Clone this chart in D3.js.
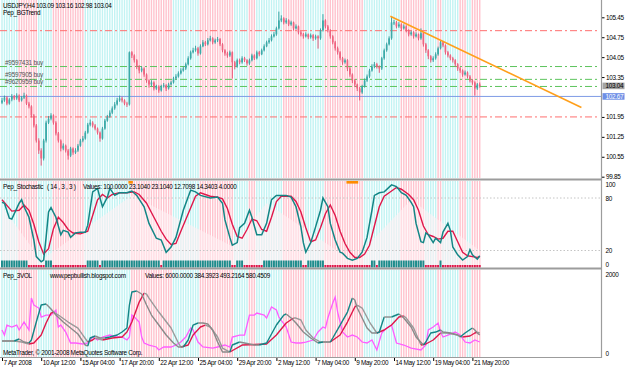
<!DOCTYPE html>
<html>
<head>
<meta charset="utf-8">
<script src="https://cdn.jsdelivr.net/npm/d3@7"></script>
<style>
body { margin: 0; background: #fff; }
svg text { font-family: "Liberation Sans", Arial, sans-serif; font-size: 6.4px; letter-spacing: -0.3px; fill: #000; }
</style>
</head>
<body>
<script>
// USDJPY H4 closes / highs / lows (open = previous close)
var firstOpen = 102.45;
var closes = [102.53,102.63,102.42,102.56,102.67,102.60,102.70,102.53,102.63,102.70,
102.42,102.32,102.00,101.65,101.12,100.77,100.49,101.12,101.75,101.89,
102.00,101.75,101.37,101.12,100.84,100.94,100.77,100.59,100.84,100.70,
100.77,100.94,101.12,101.19,101.40,101.68,101.75,101.65,101.54,101.40,
101.19,101.54,101.82,101.96,102.10,102.25,102.39,102.53,102.60,102.53,
102.42,102.39,104.22,104.11,103.94,103.72,103.58,103.65,103.44,103.23,
103.09,103.16,102.95,103.02,102.88,103.02,103.06,102.95,103.09,103.16,
103.30,103.37,103.48,103.58,103.65,103.80,104.01,104.22,104.29,104.36,
104.18,104.43,104.57,104.50,104.64,104.71,104.57,104.64,104.68,104.50,
104.29,104.18,104.11,104.22,103.87,103.72,103.94,103.87,104.01,103.94,
103.83,103.94,104.11,104.01,104.22,104.15,104.29,104.43,104.57,104.64,
104.78,104.85,105.06,105.34,105.41,105.27,105.34,105.20,105.27,105.06,
105.13,104.92,104.85,104.78,104.85,104.75,104.82,104.71,104.78,104.71,
104.99,105.34,105.13,104.99,104.78,104.57,104.36,104.22,104.01,103.87,
103.94,103.65,103.44,103.23,103.09,102.95,102.81,103.02,103.23,103.37,
103.58,103.72,103.80,103.72,103.65,104.01,104.29,104.50,104.71,105.27,
105.27,105.13,105.20,105.06,105.13,104.99,104.85,104.92,104.78,104.85,
104.71,104.89,104.50,104.29,104.08,103.94,104.01,104.15,104.36,104.57,
104.46,104.22,104.11,104.01,103.94,103.80,103.65,103.58,103.44,103.51,
103.37,103.23,103.16,102.95,103.09,103.04];
var highs = [102.62,102.70,102.68,102.61,102.75,102.72,102.78,102.74,102.68,102.80,
102.74,102.48,102.36,102.05,101.70,101.20,100.85,101.18,101.82,101.98,
102.08,102.04,101.80,101.42,101.16,101.02,100.98,100.82,100.90,100.88,
100.85,101.00,101.18,101.28,101.46,101.74,101.86,101.80,101.70,101.58,
101.44,101.60,101.88,102.02,102.18,102.32,102.47,102.62,102.70,102.66,
102.57,102.48,104.25,104.26,104.15,103.98,103.77,103.72,103.69,103.48,
103.27,103.24,103.20,103.08,103.06,103.08,103.14,103.10,103.15,103.22,
103.36,103.45,103.55,103.66,103.72,103.86,104.08,104.28,104.38,104.45,
104.41,104.50,104.65,104.62,104.72,104.80,104.75,104.70,104.76,104.72,
104.54,104.33,104.24,104.28,104.25,103.92,104.00,104.00,104.08,104.06,
103.98,104.00,104.17,104.15,104.28,104.27,104.35,104.50,104.63,104.72,
104.85,104.93,105.12,105.65,105.52,105.45,105.42,105.38,105.33,105.30,
105.20,105.16,104.97,104.90,104.92,104.88,104.88,104.86,104.84,104.82,
105.06,105.56,105.38,105.18,105.03,104.82,104.62,104.42,104.26,104.06,
104.00,103.98,103.70,103.48,103.28,103.12,103.00,103.08,103.30,103.44,
103.64,103.80,103.88,103.85,103.76,104.06,104.35,104.56,104.78,105.49,
105.36,105.32,105.28,105.24,105.20,105.17,105.03,104.98,104.96,104.92,
104.88,105.06,104.93,104.55,104.33,104.12,104.08,104.22,104.42,104.64,
104.62,104.50,104.27,104.15,104.06,103.98,103.84,103.70,103.62,103.58,
103.55,103.42,103.28,103.20,103.14,103.16];
var lows = [102.40,102.48,102.36,102.38,102.50,102.54,102.55,102.47,102.49,102.58,
102.37,102.25,101.93,101.58,101.05,100.65,100.24,100.42,101.05,101.70,
101.83,101.68,101.30,101.05,100.74,100.78,100.70,100.45,100.54,100.62,
100.65,100.72,100.90,101.06,101.15,101.36,101.62,101.58,101.48,101.33,
101.08,101.15,101.50,101.78,101.92,102.05,102.20,102.35,102.48,102.46,
102.36,102.30,102.35,104.02,103.86,103.63,103.48,103.52,103.36,103.15,
102.98,103.03,102.88,102.90,102.80,102.84,102.98,102.86,102.91,103.05,
103.12,103.26,103.33,103.44,103.54,103.60,103.76,103.96,104.18,104.24,
104.10,104.14,104.40,104.44,104.46,104.60,104.50,104.52,104.58,104.44,
104.22,104.10,104.03,104.06,103.30,103.62,103.68,103.80,103.82,103.88,
103.75,103.78,103.90,103.95,103.97,104.08,104.12,104.25,104.40,104.52,
104.60,104.74,104.80,105.02,105.28,105.20,105.22,105.14,105.15,104.98,
105.02,104.85,104.78,104.70,104.74,104.68,104.70,104.62,104.66,104.35,
104.66,104.95,105.06,104.92,104.70,104.50,104.28,104.14,103.94,103.78,
103.82,103.56,103.36,103.14,103.00,102.86,102.53,102.76,102.98,103.18,
103.32,103.54,103.66,103.65,103.50,103.60,103.96,104.24,104.46,104.66,
105.18,105.06,105.08,104.98,105.02,104.92,104.78,104.80,104.70,104.74,
104.64,104.66,104.42,104.20,103.98,103.86,103.88,103.96,104.10,104.32,
104.40,104.14,104.04,103.94,103.86,103.72,103.57,103.50,103.36,103.40,
103.30,103.16,103.08,102.70,102.90,102.98];

var priceTicks = [105.45, 104.75, 104.05, 103.35, 101.95, 101.25, 100.55, 99.85];
var timeBars = [0, 16, 32, 48, 64, 80, 96, 112, 128, 144, 160, 176, 192];
var timeLabels = ['7 Apr 2008', '10 Apr 12:00', '15 Apr 04:00', '17 Apr 20:00', '22 Apr 12:00',
  '25 Apr 04:00', '29 Apr 20:00', '2 May 12:00', '7 May 04:00', '9 May 20:00',
  '14 May 12:00', '19 May 04:00', '21 May 20:00'];

// Pep_BGTrend: [from bar, to bar] segments painted cyan, others pink
var bgUp = [[0,6],[15,20],[34,52],[70,80],[95,100],[104,114],[124,131],[148,162],[173,177],[180,186],[190,191]];

// order / level lines
var orderLevels = [103.72, 103.27, 103.02];
var orderLabels = ['#9597431 buy', '#9597905 buy', '#9620959 buy'];
var stopLevels = [104.98, 101.95];
var blueLevel = 102.67;
var bidLevel = 103.04;
var trendPts = [[158.5, 105.49], [236.5, 102.28]];

// Pep_Stochastic (14,3,3): [bar, value]
var stochK = [[0,75],[1,74],[3,57],[4,56],[7,74],[8,78],[9,70],[11,58],[13,32],[14,13],[16,7],[17,9],[18,35],[19,64],[20,69],[22,58],[24,38],[25,43],[27,41],[28,35],[30,40],[32,41],[34,41],[35,49],[37,87],[39,91],[40,80],[41,70],[43,81],[44,91],[46,83],[48,86],[51,86],[53,88],[55,83],[58,70],[60,51],[63,34],[65,32],[67,18],[69,24],[71,35],[74,66],[77,89],[79,87],[81,83],[85,80],[88,81],[90,74],[91,55],[93,35],[94,26],[96,29],[97,46],[99,51],[101,66],[102,58],[104,38],[106,38],[108,51],[110,78],[112,83],[116,83],[118,81],[120,70],[122,47],[123,29],[124,18],[126,29],[128,47],[130,66],[131,80],[133,70],[134,51],[136,32],[138,18],[139,17],[141,11],[143,9],[145,11],[147,18],[149,35],[151,66],[152,83],[154,86],[156,87],[159,95],[161,93],[163,86],[165,83],[167,75],[168,70],[169,51],[171,30],[172,29],[173,40],[174,38],[176,29],[177,34],[179,29],[180,41],[182,51],[183,43],[184,24],[186,15],[188,9],[190,13],[191,21],[192,15],[194,10],[195,14]];
var stochD = [[0,78],[4,65],[7,66],[9,72],[11,66],[13,50],[15,30],[17,16],[19,22],[21,45],[23,58],[25,52],[27,44],[29,40],[32,39],[35,42],[37,60],[39,78],[41,84],[43,80],[45,84],[48,86],[51,86],[54,87],[56,84],[59,74],[62,58],[65,42],[67,33],[69,27],[71,28],[73,42],[76,62],[79,82],[81,86],[85,82],[88,81],[90,79],[92,68],[94,50],[96,36],[98,34],[100,44],[102,56],[104,54],[106,44],[108,42],[110,58],[112,76],[114,82],[118,82],[120,76],[122,64],[124,46],[126,30],[128,32],[130,46],[132,62],[134,72],[136,60],[138,42],[140,28],[142,18],[144,12],[146,12],[148,16],[150,26],[152,48],[154,70],[156,82],[158,86],[161,92],[163,90],[166,84],[168,78],[170,66],[172,48],[174,38],[176,36],[178,33],[180,34],[182,42],[184,42],[186,30],[188,18],[190,14],[192,13],[194,12],[195,13]];
var stochZigzag = [[0,70],[16,9],[53,83],[94,25],[108,74],[143,8],[167,78],[195,20]];
var stochLevels = [80, 20];
var stochTicks = [100, 80, 20, 0];
// histogram run: [from bar, to bar, 1 = up / 0 = down]
var stochHist = [[0,10,1],[11,17,0],[18,20,1],[21,34,0],[35,39,1],[40,40,0],[41,64,1],[65,65,0],[66,93,1],[94,95,0],[96,98,1],[99,106,0],[107,122,1],[123,124,0],[125,131,1],[132,150,0],[151,152,1],[153,153,0],[154,172,1],[173,178,0],[179,179,1],[180,195,0]];
var orangeMarks = [[52,53],[141,145]];

// Pep_3VOL: [bar, value]
var volFast = [[0,304],[5,304],[7,354],[9,278],[11,253],[12,329],[14,784],[16,1214],[18,1240],[20,1113],[22,961],[25,784],[28,632],[31,481],[34,202],[35,177],[36,380],[38,430],[40,380],[42,380],[44,405],[47,455],[49,531],[51,632],[52,1214],[53,1543],[55,1569],[57,1493],[59,1214],[61,961],[64,708],[67,455],[70,253],[72,152],[74,152],[76,329],[78,708],[80,759],[82,759],[84,734],[86,582],[88,278],[90,25],[93,25],[94,202],[97,278],[99,253],[103,202],[105,202],[108,253],[112,708],[115,961],[116,987],[118,885],[120,759],[123,531],[126,380],[129,253],[131,278],[134,278],[135,380],[138,708],[141,1037],[143,1391],[144,1341],[145,1138],[147,885],[149,632],[151,506],[153,506],[154,531],[156,911],[159,911],[162,987],[164,885],[167,658],[169,405],[172,202],[173,278],[175,506],[177,531],[179,582],[180,531],[183,506],[186,455],[187,405],[189,506],[192,632],[193,582],[194,506],[195,455]];
var volSlow = [[0,304],[5,304],[8,278],[11,228],[13,253],[16,455],[18,759],[20,1012],[21,1037],[23,961],[27,784],[31,632],[33,455],[35,278],[37,329],[38,380],[41,329],[45,380],[49,405],[51,531],[53,784],[56,1290],[58,1518],[59,1493],[60,1391],[64,1037],[69,632],[72,253],[73,152],[76,202],[78,455],[81,658],[83,708],[85,658],[88,405],[90,126],[93,25],[98,202],[108,228],[112,455],[116,759],[119,885],[120,885],[122,835],[124,582],[127,380],[130,278],[134,278],[138,455],[141,784],[144,1164],[145,1214],[147,1138],[150,784],[153,506],[156,582],[159,708],[162,911],[164,936],[165,885],[168,632],[171,202],[173,228],[176,329],[179,506],[182,506],[186,455],[188,405],[191,430],[193,506],[194,531],[195,506]];
var volMag = [[0,582],[1,455],[2,708],[4,658],[6,708],[7,582],[9,784],[11,582],[12,1391],[13,1214],[15,1138],[16,911],[18,961],[20,961],[22,1088],[23,658],[24,708],[26,531],[28,253],[30,253],[33,228],[35,253],[37,405],[39,329],[41,405],[44,455],[47,405],[49,405],[51,329],[52,405],[53,961],[54,911],[56,784],[57,405],[58,253],[60,202],[63,152],[64,76],[66,152],[69,152],[71,202],[73,278],[75,405],[77,632],[78,582],[80,278],[82,152],[86,126],[88,152],[91,202],[93,152],[94,405],[97,455],[99,455],[101,961],[103,961],[104,1012],[107,961],[108,885],[110,1164],[112,1088],[113,911],[116,658],[118,278],[120,253],[122,253],[124,278],[127,329],[129,531],[131,658],[132,632],[133,885],[135,1265],[136,1417],[137,1037],[139,531],[141,405],[143,455],[145,405],[147,278],[149,253],[151,329],[153,76],[155,506],[157,632],[159,708],[161,253],[164,202],[167,126],[171,76],[173,202],[174,582],[176,658],[178,759],[179,531],[180,405],[182,455],[185,531],[187,455],[189,278],[191,253],[193,329],[195,278]];
var volTicks = [2000, 0];

var W = 625, H = 368, plotR = 601.5;
var svg = d3.select('body').append('svg').attr('width', W).attr('height', H);

var x = d3.scaleLinear().domain([0, 195]).range([2, 479.75]);
var yP = d3.scaleLinear().domain([99.85, 105.45]).range([176.7, 17.3]);
var yS = d3.scaleLinear().domain([0, 100]).range([268, 180.5]);
var yV = d3.scaleLinear().domain([0, 2000]).range([353, 274]);

var bars = closes.map(function (c, i) {
  return { i: i, o: i === 0 ? firstOpen : closes[i - 1], c: c, h: highs[i], l: lows[i] };
});
function isUp(i) {
  return bgUp.some(function (s) { return i >= s[0] && i <= s[1]; });
}

// background stripes in the three panels
var panels = [[0, 178], [181, 267.5], [269.5, 357]];
panels.forEach(function (p) {
  svg.append('g').selectAll('rect').data(bars).enter().append('rect')
    .attr('x', function (d) { return x(d.i) - 0.7; })
    .attr('y', p[0]).attr('width', 1.4).attr('height', p[1] - p[0])
    .attr('fill', function (d) { return isUp(d.i) ? '#c2f3f3' : '#ffc3ce'; });
});

svg.append('clipPath').attr('id', 'cm').append('rect')
  .attr('x', 0).attr('y', 0).attr('width', plotR).attr('height', 178);

// level lines
var gLev = svg.append('g').attr('clip-path', 'url(#cm)');
gLev.selectAll('.stop').data(stopLevels).enter().append('line')
  .attr('x1', 0).attr('x2', plotR - 2)
  .attr('y1', function (d) { return yP(d); }).attr('y2', function (d) { return yP(d); })
  .attr('stroke', '#ff6f6f').attr('stroke-dasharray', '7,3,2,3');
gLev.selectAll('.ord').data(orderLevels).enter().append('line')
  .attr('x1', 0).attr('x2', plotR - 2)
  .attr('y1', function (d) { return yP(d); }).attr('y2', function (d) { return yP(d); })
  .attr('stroke', '#5cc45c').attr('stroke-dasharray', '7,3,2,3');
gLev.append('line').attr('x1', 0).attr('x2', plotR)
  .attr('y1', yP(blueLevel)).attr('y2', yP(blueLevel))
  .attr('stroke', '#7f9be6').attr('stroke-width', 1);
gLev.selectAll('.olab').data(orderLevels).enter().append('text')
  .attr('x', 5).attr('y', function (d) { return yP(d) - 2; })
  .style('fill', '#555').style('font-size', '6.4px').style('letter-spacing', '-0.2px')
  .text(function (d, i) { return orderLabels[i]; });

// candles
var gC = svg.append('g');
gC.selectAll('line').data(bars).enter().append('line')
  .attr('x1', function (d) { return x(d.i); }).attr('x2', function (d) { return x(d.i); })
  .attr('y1', function (d) { return yP(d.h); }).attr('y2', function (d) { return yP(d.l); })
  .attr('stroke', function (d) { return d.c >= d.o ? '#2c9a9a' : '#e4476c'; })
  .attr('stroke-width', 0.9);
gC.selectAll('rect').data(bars).enter().append('rect')
  .attr('x', function (d) { return x(d.i) - 0.85; })
  .attr('width', 1.7)
  .attr('y', function (d) { return yP(Math.max(d.o, d.c)); })
  .attr('height', function (d) { return Math.max(1, Math.abs(yP(d.o) - yP(d.c))); })
  .attr('fill', function (d) { return d.c >= d.o ? '#3aaaa8' : '#f0637f'; });

// trend line
svg.append('line')
  .attr('x1', x(trendPts[0][0])).attr('y1', yP(trendPts[0][1]))
  .attr('x2', x(trendPts[1][0])).attr('y2', yP(trendPts[1][1]))
  .attr('stroke', '#ff9f1a').attr('stroke-width', 1.6);

// price axis
var axP = svg.append('g').attr('transform', 'translate(' + plotR + ',0)')
  .call(d3.axisRight(yP).tickValues(priceTicks).tickSize(3).tickPadding(1.5).tickFormat(d3.format('.2f')));
axP.select('.domain').remove();
axP.selectAll('line').attr('stroke', '#000');

// bid and blue level boxes
[[bidLevel, '#a3a3a3', '#000'], [blueLevel, '#6f8fe6', '#fff']].forEach(function (b) {
  svg.append('rect').attr('x', plotR + 1).attr('y', yP(b[0]) - 3.3)
    .attr('width', 22).attr('height', 6.6).attr('fill', b[1]);
  svg.append('text').attr('x', plotR + 4).attr('y', yP(b[0]) + 2.3)
    .style('fill', b[2]).text(d3.format('.2f')(b[0]));
});

svg.append('text').attr('x', 3).attr('y', 8).text('USDJPY,H4  103.09 103.16 102.98 103.04');
svg.append('text').attr('x', 3).attr('y', 15).text('Pep_BGTrend');

// stochastic panel
svg.append('path')
  .datum(stochZigzag.concat([[195, 0], [0, 0]]))
  .attr('d', d3.line().x(function (d) { return x(d[0]); }).y(function (d) { return yS(d[1]); }))
  .attr('fill', '#fff0f3').attr('fill-opacity', 0.6);
svg.selectAll('.slev').data(stochLevels).enter().append('line')
  .attr('x1', 0).attr('x2', plotR)
  .attr('y1', function (d) { return yS(d); }).attr('y2', function (d) { return yS(d); })
  .attr('stroke', '#c4c4c4').attr('stroke-dasharray', '1.5,2');

var histBars = [];
stochHist.forEach(function (s) {
  for (var i = s[0]; i <= s[1]; i++) histBars.push({ i: i, up: s[2] });
});
svg.append('g').selectAll('rect').data(histBars).enter().append('rect')
  .attr('x', function (d) { return x(d.i) - 1; }).attr('width', 1.95)
  .attr('y', function (d) { return d.up ? 260.5 : 265; })
  .attr('height', function (d) { return d.up ? 7 : 2.5; })
  .attr('fill', function (d) { return d.up ? '#1e8c8c' : '#e0174a'; });

var lineS = d3.line().x(function (d) { return x(d[0]); }).y(function (d) { return yS(d[1]); });
svg.append('path').datum(stochD).attr('d', lineS).attr('fill', 'none')
  .attr('stroke', '#e0174a').attr('stroke-width', 1.4);
svg.append('path').datum(stochK).attr('d', lineS).attr('fill', 'none')
  .attr('stroke', '#138686').attr('stroke-width', 1.5);

var axS = svg.append('g').attr('transform', 'translate(' + plotR + ',0)')
  .call(d3.axisRight(yS).tickValues(stochTicks).tickSize(0).tickPadding(4));
axS.select('.domain').remove();
axS.selectAll('text').attr('dy', function (d) { return d === 100 ? '0.9em' : (d === 0 ? '-0.2em' : '0.32em'); });

svg.append('text').attr('x', 3).attr('y', 189).text('Pep_Stochastic');
svg.append('text').attr('x', 47).attr('y', 189).text('( 14 , 3 , 3 )');
svg.append('text').attr('x', 83).attr('y', 189).text('Values: 100.0000 23.1040 23.1040 12.7098 14.3403 4.0000');

// volume panel
var lineV = d3.line().x(function (d) { return x(d[0]); }).y(function (d) { return yV(d[1]); });
function runs(pts) {
  var out = [], cur = null;
  for (var k = 1; k < pts.length; k++) {
    var up = pts[k][1] > pts[k - 1][1];
    if (!cur || cur.up !== up) { cur = { up: up, pts: [pts[k - 1]] }; out.push(cur); }
    cur.pts.push(pts[k]);
  }
  return out;
}
svg.append('path').datum(volMag).attr('d', lineV).attr('fill', 'none')
  .attr('stroke', '#ff5cff').attr('stroke-width', 1.3);
[[volSlow, '#e0174a', '#9a9a9a'], [volFast, '#138686', '#8a8a8a']].forEach(function (s) {
  svg.append('g').selectAll('path').data(runs(s[0])).enter().append('path')
    .attr('d', function (r) { return lineV(r.pts); })
    .attr('fill', 'none').attr('stroke-width', 1.4).attr('stroke-linejoin', 'round')
    .attr('stroke', function (r) { return r.up ? s[1] : s[2]; });
});

var axV = svg.append('g').attr('transform', 'translate(' + plotR + ',0)')
  .call(d3.axisRight(yV).tickValues(volTicks).tickSize(0).tickPadding(4).tickFormat(d3.format('d')));
axV.select('.domain').remove();

svg.append('text').attr('x', 3).attr('y', 278).text('Pep_3VOL');
svg.append('text').attr('x', 50).attr('y', 278).text('www.pepbullish.blogspot.com');
svg.append('text').attr('x', 145).attr('y', 278).text('Values: 6000.0000 384.3923 493.2164 580.4509');
svg.append('text').attr('x', 3).attr('y', 354.5).text('MetaTrader, \u00a9 2001-2008 MetaQuotes Software Corp.');

// frame: separators and right edge
svg.selectAll('.sep').data([179.5, 268.5]).enter().append('line')
  .attr('x1', 0).attr('x2', plotR).attr('y1', function (d) { return d; }).attr('y2', function (d) { return d; })
  .attr('stroke', '#9c9c9c').attr('stroke-width', 2);
svg.append('line').attr('x1', 0).attr('x2', plotR).attr('y1', 357.5).attr('y2', 357.5)
  .attr('stroke', '#9c9c9c').attr('stroke-width', 1);
svg.append('line').attr('x1', plotR).attr('x2', plotR).attr('y1', 0).attr('y2', 358)
  .attr('stroke', '#9c9c9c').attr('stroke-width', 1.2);

svg.selectAll('.om').data(orangeMarks).enter().append('rect')
  .attr('x', function (d) { return x(d[0]) - 1; })
  .attr('width', function (d) { return x(d[1]) - x(d[0]) + 2; })
  .attr('y', 181).attr('height', 2.6).attr('fill', '#ff8c00');

// time axis
var axT = svg.append('g').attr('transform', 'translate(0,358)')
  .call(d3.axisBottom(x).tickValues(timeBars).tickSize(3).tickPadding(0)
    .tickFormat(function (d, i) { return timeLabels[i]; }));
axT.select('.domain').remove();
axT.selectAll('line').attr('stroke', '#000');
axT.selectAll('text').attr('text-anchor', 'start').attr('x', 1).attr('y', 2).attr('dy', '0.71em');
svg.selectAll('.tick text').style('font-family', '"Liberation Sans", Arial, sans-serif')
  .style('font-size', '6.4px').style('letter-spacing', '-0.3px');
</script>
</body>
</html>
